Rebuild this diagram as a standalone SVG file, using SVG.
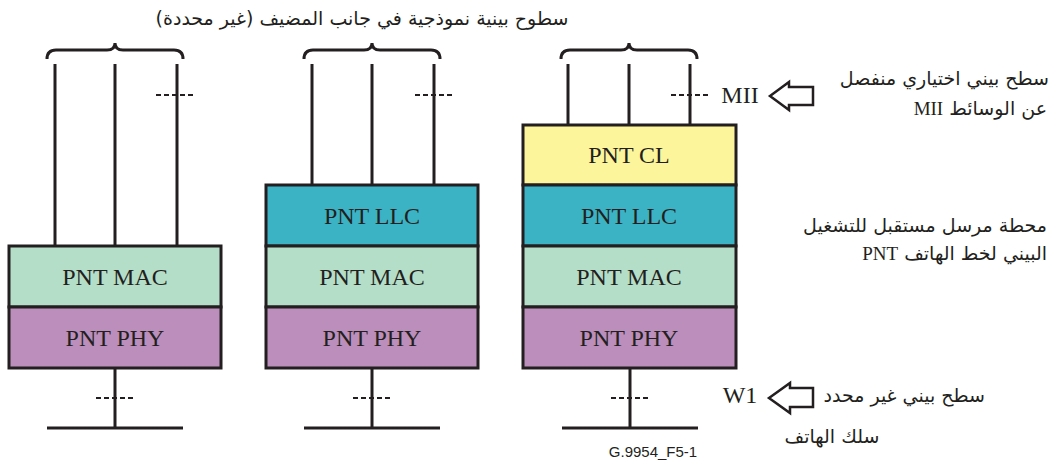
<svg xmlns="http://www.w3.org/2000/svg" width="1051" height="464" viewBox="0 0 1051 464">
<style>
.box{stroke:#231f20;stroke-width:3}
.cl{fill:#fdf59b}.llc{fill:#3cb3c4}.mac{fill:#b5dec9}.phy{fill:#bb8ebb}
.lt{font-family:"Liberation Serif",serif;font-size:24px;fill:#231f20;text-anchor:middle}
.ar{font-family:"DejaVu Sans","Liberation Serif",sans-serif;font-size:19px;fill:#231f20}
.ln{stroke:#231f20;stroke-width:3;fill:none}
.dash{stroke:#231f20;stroke-width:2;stroke-dasharray:5 3;fill:none}
.arr{fill:#fff;stroke:#231f20;stroke-width:2.5;stroke-linejoin:miter}
</style>
<rect width="1051" height="464" fill="#fff"/>
<text class="ar" x="362" y="25" text-anchor="middle" direction="rtl">سطوح بينية نموذجية في جانب المضيف (غير محددة)</text>
<g id="connectors">
<path class="ln" d="M47,59 Q47,50 56,50 L107,50 Q115,50 115,43 Q115,50 123,50 L174,50 Q183,50 183,59"/>
<path class="ln" d="M304,59 Q304,50 313,50 L364,50 Q372,50 372,43 Q372,50 380,50 L431,50 Q440,50 440,59"/>
<path class="ln" d="M561,59 Q561,50 570,50 L621,50 Q629,50 629,43 Q629,50 637,50 L688,50 Q697,50 697,59"/>
<path class="ln" d="M55,64V246M115,64V246M177,64V246"/>
<path class="ln" d="M312,64V185M372,64V185M434,64V185"/>
<path class="ln" d="M568,64V125M629,64V125M690,64V125"/>
<path class="dash" d="M156,95H194M415,95H453M671,95H709"/>
<path class="ln" d="M115,368V428M47,428H183"/>
<path class="ln" d="M372,368V428M304,428H440"/>
<path class="ln" d="M630,368V428M562,428H698"/>
<path class="dash" d="M96,398H134M353,398H391M611,398H649"/>
<path class="arr" d="M770,96L789,82V87H813V105H789V110Z"/>
<path class="arr" d="M769,398L790,383V388H813V407H790V413Z"/>
</g>
<g id="stack1">
<rect class="box mac" x="9" y="246" width="212" height="61"/>
<rect class="box phy" x="9" y="307" width="212" height="61"/>
<text class="lt" x="115" y="285">PNT MAC</text>
<text class="lt" x="115" y="346">PNT PHY</text>
</g>
<g id="stack2">
<rect class="box llc" x="266" y="185" width="212" height="61"/>
<rect class="box mac" x="266" y="246" width="212" height="61"/>
<rect class="box phy" x="266" y="307" width="212" height="61"/>
<text class="lt" x="372" y="224">PNT LLC</text>
<text class="lt" x="372" y="285">PNT MAC</text>
<text class="lt" x="372" y="346">PNT PHY</text>
</g>
<g id="stack3">
<rect class="box cl" x="523" y="125" width="213" height="60"/>
<rect class="box llc" x="523" y="185" width="213" height="61"/>
<rect class="box mac" x="523" y="246" width="213" height="61"/>
<rect class="box phy" x="523" y="307" width="213" height="61"/>
<text class="lt" x="629" y="163">PNT CL</text>
<text class="lt" x="629" y="224">PNT LLC</text>
<text class="lt" x="629" y="285">PNT MAC</text>
<text class="lt" x="629" y="346">PNT PHY</text>
</g>
<g id="labels">
<text class="lt" x="740" y="103">MII</text>
<text class="lt" x="740" y="403">W1</text>
<text class="ar" x="1049" y="85" direction="rtl" text-anchor="start" font-size="22">سطح بيني اختياري منفصل</text>
<text class="ar" x="1047" y="115" direction="rtl" text-anchor="start" font-size="20">عن الوسائط <tspan font-family="Liberation Serif">MII</tspan></text>
<text class="ar" x="1047" y="232" direction="rtl" text-anchor="start" font-size="18">محطة مرسل مستقبل للتشغيل</text>
<text class="ar" x="1047" y="260" direction="rtl" text-anchor="start" font-size="19.5">البيني لخط الهاتف <tspan font-family="Liberation Serif">PNT</tspan></text>
<text class="ar" x="985" y="402" direction="rtl" text-anchor="start">سطح بيني غير محدد</text>
<text class="ar" x="832" y="443" text-anchor="middle" direction="rtl" font-size="18">سلك الهاتف</text>
<text x="653" y="457" font-family="Liberation Sans,sans-serif" font-size="15" fill="#231f20" text-anchor="middle">G.9954_F5-1</text>
</g>
</svg>
